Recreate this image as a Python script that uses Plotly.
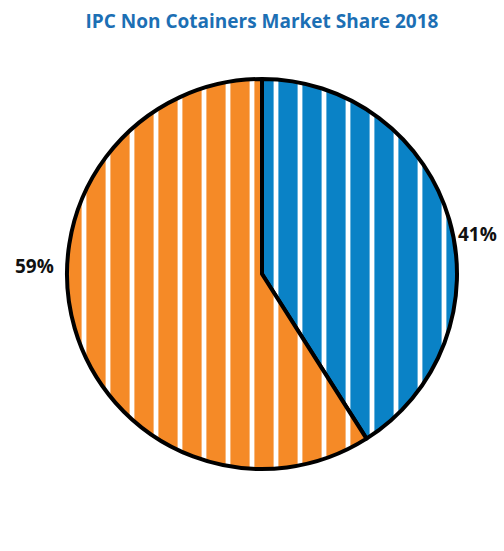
import plotly.graph_objects as go

labels = ["IPC", "Others"]
values = [41, 59]
colors = ["#0A82C6", "#F58A27"]

W, H = 504, 551
cx, cy, r = 262, 274, 195

# label anchor positions (pixels) for each slice, in order
label_pos = [(477, 234), (34, 266)]

total = sum(values)

fig = go.Figure(go.Pie(
    labels=labels,
    values=values,
    sort=False,
    direction="clockwise",
    rotation=0,
    textinfo="none",
    marker=dict(
        colors=colors,
        line=dict(color="#000000", width=4),
        pattern=dict(shape="|", fillmode="replace", fgcolor="#FFFFFF",
                     bgcolor=colors, size=24, solidity=0.2),
    ),
    domain=dict(x=[(cx - r) / W, (cx + r) / W],
                y=[(H - cy - r) / H, (H - cy + r) / H]),
    hoverinfo="label+percent",
    showlegend=False,
))

for v, (px, py) in zip(values, label_pos):
    fig.add_annotation(
        text=f"<b>{round(100 * v / total)}%</b>",
        x=px / W, y=1 - py / H, xref="paper", yref="paper",
        xanchor="center", yanchor="middle", showarrow=False,
        font=dict(family="Open Sans", size=19, color="#111111"),
    )

fig.update_layout(
    width=W, height=H,
    margin=dict(l=0, r=0, t=0, b=0),
    paper_bgcolor="white",
    title=dict(text="<b>IPC Non Cotainers Market Share 2018</b>",
               x=262 / W, xanchor="center", y=1 - 21 / H, yanchor="middle",
               font=dict(family="Open Sans", size=19, color="#1C6FB4")),
)

fig.write_html("out.html")
